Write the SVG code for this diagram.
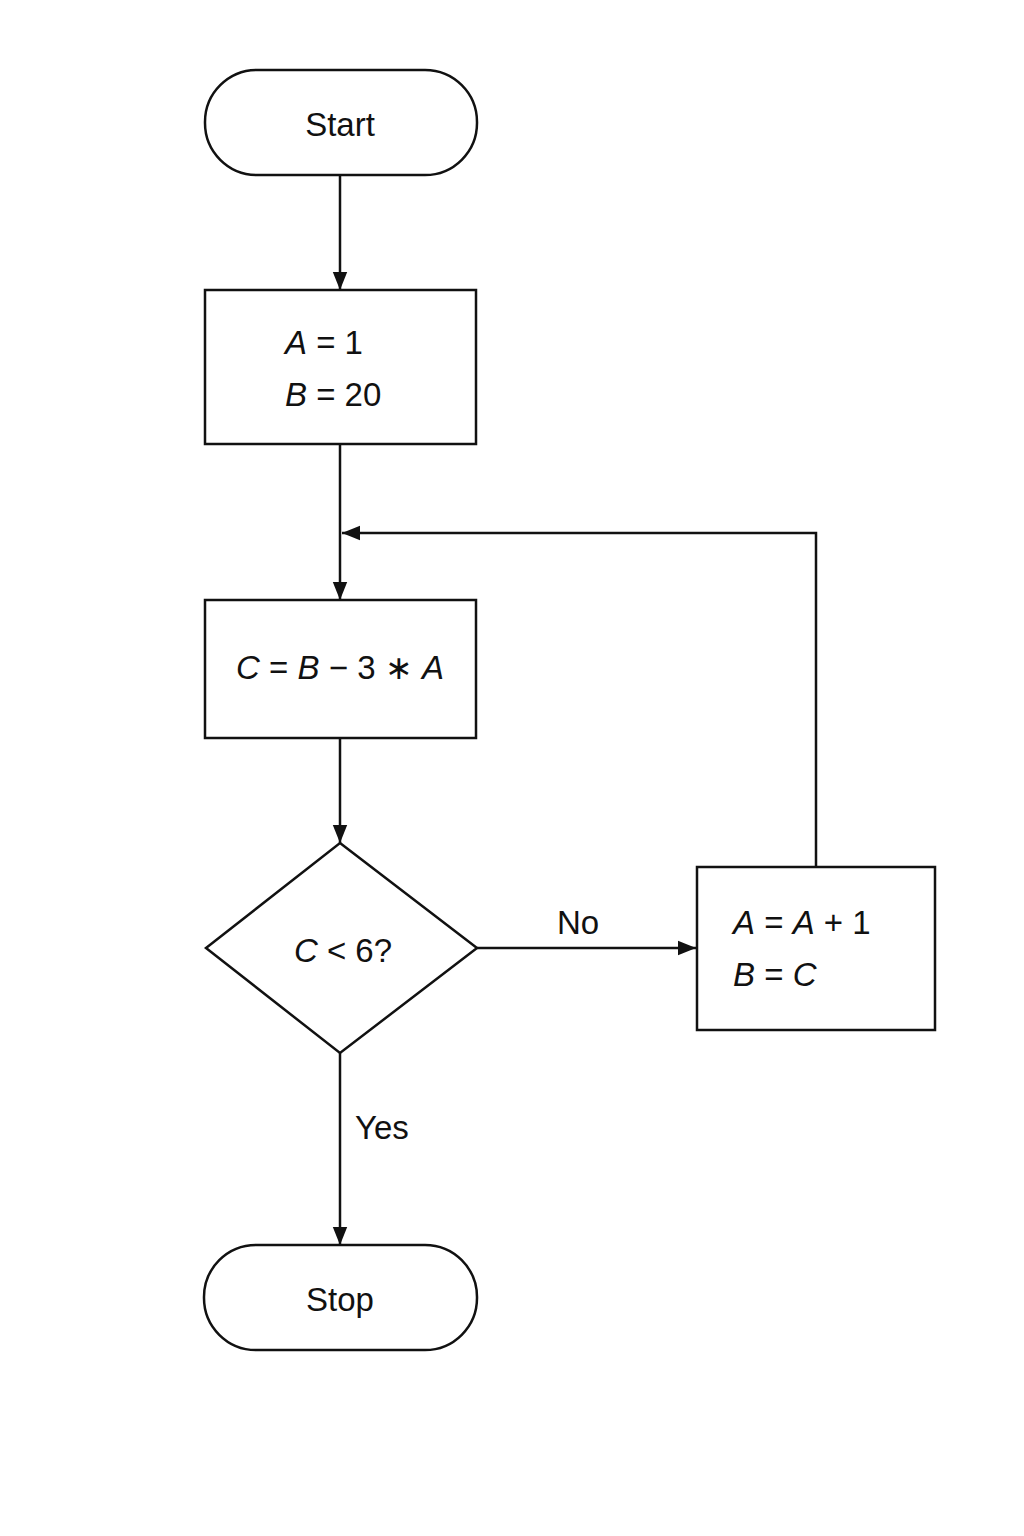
<svg xmlns="http://www.w3.org/2000/svg" width="1024" height="1536" viewBox="0 0 1024 1536">
<style>
.s{fill:#fff;stroke:#111;stroke-width:2.5}
.c{fill:none;stroke:#111;stroke-width:2.5}
text{font-family:"Liberation Sans",Arial,sans-serif;font-size:33px;fill:#111}
.i{font-style:italic}
</style>
<defs><marker id="a" viewBox="0 0 10 10" refX="10" refY="5" markerWidth="7" markerHeight="7" orient="auto" markerUnits="userSpaceOnUse"><path d="M0,0L10,5L0,10z" fill="#111"/></marker>
<marker id="b" viewBox="0 0 10 10" refX="10" refY="5" markerWidth="18" markerHeight="18" orient="auto" markerUnits="userSpaceOnUse"><path d="M0,1L10,5L0,9z" fill="#111"/></marker></defs>
<rect width="1024" height="1536" fill="#fff"/>
<g id="connectors">
<path class="c" d="M340,175V290" marker-end="url(#b)"/>
<path class="c" d="M340,444V600" marker-end="url(#b)"/>
<path class="c" d="M816,867V533H342" marker-end="url(#b)"/>
<path class="c" d="M340,738V843" marker-end="url(#b)"/>
<path class="c" d="M477,948H696" marker-end="url(#b)"/>
<path class="c" d="M340,1053V1245" marker-end="url(#b)"/>
<text x="578" y="934" text-anchor="middle">No</text>
<text x="355" y="1139">Yes</text>
</g>
<g id="start"><rect class="s" x="205" y="70" width="272" height="105" rx="52"/><text x="340" y="136" text-anchor="middle">Start</text></g>
<g id="init"><rect class="s" x="205" y="290" width="271" height="154"/>
<text x="285" y="354"><tspan class="i">A</tspan> = 1</text>
<text x="285" y="406"><tspan class="i">B</tspan> = 20</text></g>
<g id="calc"><rect class="s" x="205" y="600" width="271" height="138"/>
<text x="340" y="679" text-anchor="middle"><tspan class="i">C</tspan> = <tspan class="i">B</tspan> − 3 ∗ <tspan class="i">A</tspan></text></g>
<g id="decision"><polygon class="s" points="340,843 477,948 340,1053 206,948"/>
<text x="343" y="962" text-anchor="middle"><tspan class="i">C</tspan> &lt; 6?</text></g>
<g id="update"><rect class="s" x="697" y="867" width="238" height="163"/>
<text x="733" y="934"><tspan class="i">A</tspan> = <tspan class="i">A</tspan> + 1</text>
<text x="733" y="986"><tspan class="i">B</tspan> = <tspan class="i">C</tspan></text></g>
<g id="stop"><rect class="s" x="204" y="1245" width="273" height="105" rx="52"/><text x="340" y="1311" text-anchor="middle">Stop</text></g>
</svg>
